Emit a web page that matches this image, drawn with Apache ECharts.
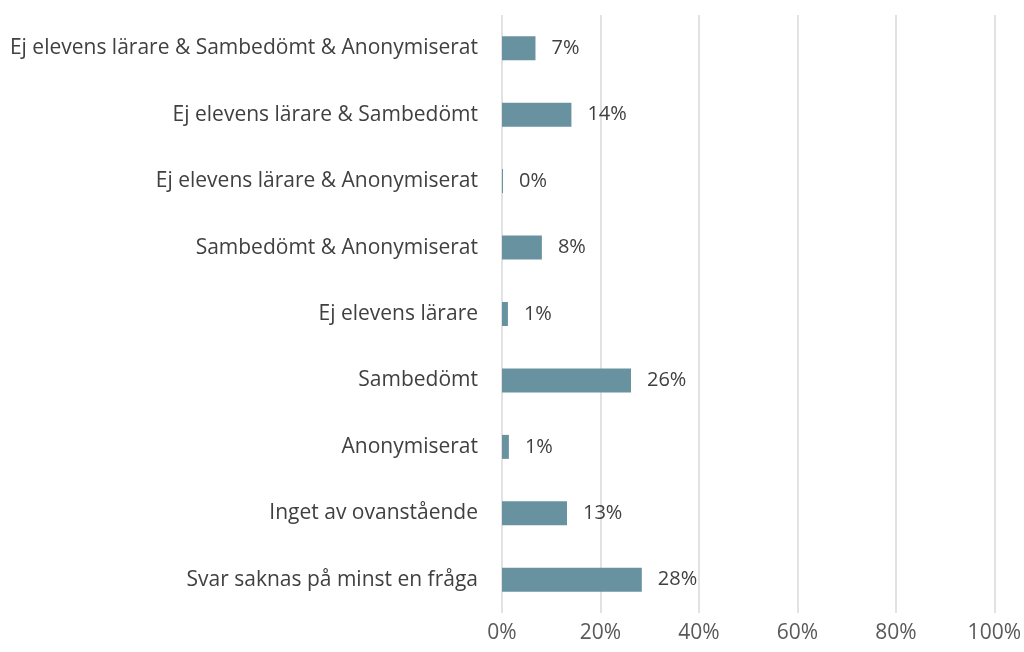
<!DOCTYPE html>
<html>
<head>
<meta charset="utf-8">
<script src="https://cdn.jsdelivr.net/npm/echarts@6/dist/echarts.min.js"></script>
<style>
  html, body { margin: 0; padding: 0; background: #fff; }
  #chart { width: 1024px; height: 652px; }
</style>
</head>
<body>
<div id="chart"></div>
<script>
  // kategorier, uppifrån och ned
  var categories = [
    'Ej elevens lärare & Sambedömt & Anonymiserat',
    'Ej elevens lärare & Sambedömt',
    'Ej elevens lärare & Anonymiserat',
    'Sambedömt & Anonymiserat',
    'Ej elevens lärare',
    'Sambedömt',
    'Anonymiserat',
    'Inget av ovanstående',
    'Svar saknas på minst en fråga'
  ];
  // andel i procent
  var values = [6.8, 14.1, 0.2, 8.1, 1.2, 26.2, 1.4, 13.2, 28.4];
  var xTicks = [0, 20, 40, 60, 80, 100];

  var chart = echarts.init(document.getElementById('chart'));
  var font = '"Open Sans", "Liberation Sans", sans-serif';

  chart.setOption({
    animation: false,
    grid: { left: 502, right: 29, top: 15, bottom: 39 },
    xAxis: {
      type: 'value',
      min: xTicks[0],
      max: xTicks[xTicks.length - 1],
      interval: 20,
      axisLine: { show: false },
      axisTick: { show: false },
      axisLabel: {
        formatter: '{value}%',
        color: '#595959',
        fontSize: 21,
        fontFamily: font,
        margin: 10
      },
      splitLine: { lineStyle: { color: '#d9d9d9', width: 1.5 } }
    },
    yAxis: {
      type: 'category',
      inverse: true,
      data: categories,
      axisLine: { show: false },
      axisTick: { show: false },
      axisLabel: {
        color: '#404040',
        fontSize: 21,
        fontFamily: font,
        margin: 24
      }
    },
    series: [{
      type: 'bar',
      data: values,
      barWidth: 24,
      itemStyle: { color: '#6892a0' },
      label: {
        show: true,
        position: 'right',
        distance: 16,
        color: '#404040',
        fontSize: 20,
        fontFamily: font,
        formatter: function (p) { return Math.round(p.value) + '%'; }
      }
    }]
  });
</script>
</body>
</html>
